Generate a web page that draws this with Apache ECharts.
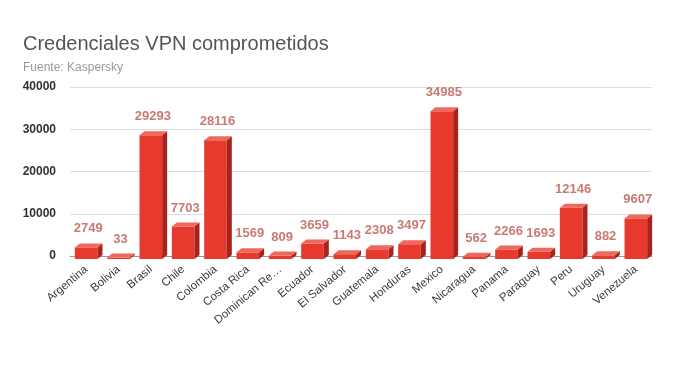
<!DOCTYPE html>
<html><head><meta charset="utf-8">
<script src="https://cdn.jsdelivr.net/npm/echarts@6/dist/echarts.min.js"></script>
<style>html,body{margin:0;padding:0;background:#fff}#c{width:680px;height:365px}</style>
</head><body><div id="c"></div>
<script>
var categories = ["Argentina","Bolivia","Brasil","Chile","Colombia","Costa Rica","Dominican Re…","Ecuador","El Salvador","Guatemala","Honduras","Mexico","Nicaragua","Panama","Paraguay","Peru","Uruguay","Venezuela"];
var values = [2749,33,29293,7703,28116,1569,809,3659,1143,2308,3497,34985,562,2266,1693,12146,882,9607];
var yTicks = [0,10000,20000,30000,40000];

var chart = echarts.init(document.getElementById('c'), null, {renderer:'canvas'});
var DX = 5, DY = 4;
chart.setOption({
  animation:false,
  title:{text:'Credenciales VPN comprometidos', subtext:'Fuente: Kaspersky', left:18, top:29,
    itemGap:8,
    textStyle:{fontFamily:'Liberation Sans, Arial', fontSize:20, fontWeight:'normal', color:'#555'},
    subtextStyle:{fontFamily:'Liberation Sans, Arial', fontSize:12, color:'#999'}},
  grid:{left:70, right:28, top:87, bottom:109},
  xAxis:{type:'category', data:categories,
    axisLine:{show:true, lineStyle:{color:'#999'}}, axisTick:{show:false},
    axisLabel:{rotate:40, interval:0, color:'#3a3a3a', fontSize:11.5, fontFamily:'Liberation Sans, Arial', margin:12}},
  yAxis:{type:'value', min:yTicks[0], max:yTicks[yTicks.length-1], interval:10000,
    axisLine:{show:false}, axisTick:{show:false},
    axisLabel:{color:'#333', fontSize:12, fontWeight:'bold', fontFamily:'Liberation Sans, Arial', margin:14,
      formatter:function(v){return String(v);}},
    splitLine:{lineStyle:{color:'#ddd'}}},
  series:[{
    type:'custom',
    data: values.map(function(v,i){return [i,v];}),
    renderItem:function(params, api){
      var i = api.value(0), v = api.value(1);
      var top = api.coord([i, v]);
      var base = api.coord([i, 0]);
      var bw = api.size([1,0])[0]*0.7;
      var x0 = top[0]-bw/2, x1 = top[0]+bw/2;
      var yb = base[1]+3, yt = Math.min(top[1]+3, yb-1.5);
      return {type:'group', children:[
        {type:'rect', shape:{x:x0, y:yt, width:bw, height:yb-yt}, style:{fill:'#e8392f'}},
        {type:'polygon', shape:{points:[[x1,yt],[x1+DX,yt-DY],[x1+DX,yb-DY],[x1,yb]]}, style:{fill:'#a8231b'}},
        {type:'polygon', shape:{points:[[x0,yt],[x0+DX,yt-DY],[x1+DX,yt-DY],[x1,yt]]}, style:{fill:'#f0675c'}},
        {type:'text', style:{text:String(v), x:top[0]+2, y:yt-DY-8, textAlign:'center', textVerticalAlign:'bottom',
          fill:'#c87a74', font:'bold 13px "Liberation Sans", Arial'}}
      ]};
    }
  }]
});
</script></body></html>
